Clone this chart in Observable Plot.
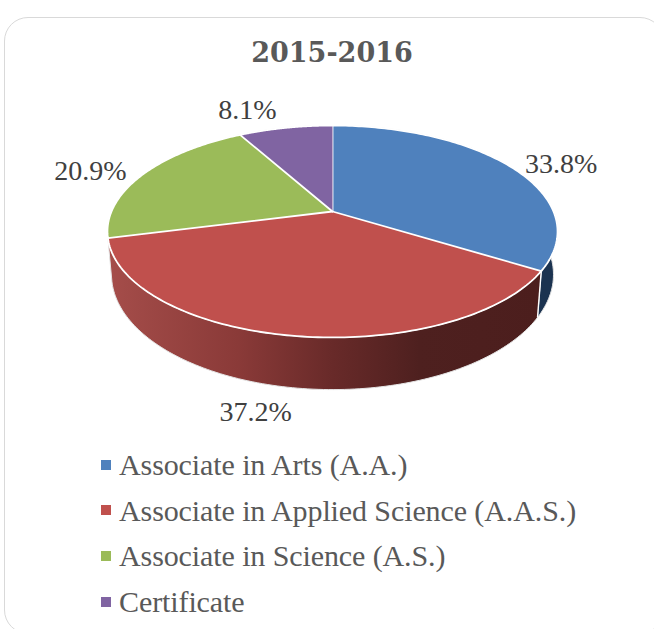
<!DOCTYPE html>
<html>
<head>
<meta charset="utf-8">
<script src="https://cdn.jsdelivr.net/npm/d3@7"></script>
<script src="https://cdn.jsdelivr.net/npm/@observablehq/plot@0.6"></script>
<style>
  html, body { margin: 0; padding: 0; background: #fff; overflow: hidden; }
  #page { position: relative; width: 654px; height: 629px; overflow: hidden; font-family: "Liberation Serif", serif; }
  #card { position: absolute; left: 4px; top: 17px; width: 660px; height: 617px; border: 1.5px solid #d9d9d9; border-radius: 24px; box-sizing: border-box; }
  #title { position: absolute; left: 0; width: 664px; top: 37px; text-align: center; font: bold 27px "DejaVu Serif", serif; color: #595959; }
  #chart { position: absolute; left: 0; top: 90px; }
  #legend { position: absolute; left: 101px; top: 442px; color: #595959; font-size: 30px; letter-spacing: -0.1px; line-height: 45.6px; white-space: nowrap; }
  #legend div { display: flex; align-items: center; }
  #legend i { display: inline-block; width: 10px; height: 10px; margin-right: 8px; }
</style>
</head>
<body>
<div id="page">
  <div id="card"></div>
  <div id="title"></div>
  <div id="chart"></div>
  <div id="legend"></div>
</div>
<script>
const chartTitle = "2015-2016";
const categories = ["Associate in Arts (A.A.)", "Associate in Applied Science (A.A.S.)", "Associate in Science (A.S.)", "Certificate"];
const shares = [33.8, 37.2, 20.9, 8.1];
const sliceColors = ["#4F81BD", "#C0504D", "#9BBB59", "#8064A2"];

// Perspective projection of a flat disc (unit radius), in scale units
const K = 0.1887, XS = 221 / 102.2;
const topRim = (a) => {
  const u = Math.sin(a), v = -Math.cos(a), w = 1 - K * v;
  return { x: XS * u / w, y: v / w };
};
const DEPTH_S = 0.982, DEPTH_Y = (252.4 - 211) / 102.2, DEPTH_B = 110.9 / 102.2;
const lowRim = (a) => {
  const u = Math.sin(a), v = -Math.cos(a), w = 1 - K * v;
  return { x: DEPTH_S * XS * u / w, y: DEPTH_Y + DEPTH_B * v / w };
};

const total = d3.sum(shares);
let acc = 0;
const slices = shares.map((s, i) => {
  const a0 = acc / total * 2 * Math.PI;
  acc += s;
  return { i, name: categories[i], share: s, color: sliceColors[i], a0, a1: acc / total * 2 * Math.PI };
});
const arc = (a0, a1, fn) => d3.range(0, 121).map(k => fn(a0 + (a1 - a0) * k / 120));

const facePoly = s => [{ x: 0, y: 0 }, ...arc(s.a0, s.a1, topRim)];
const sidePoly = (a0, a1) => [...arc(a0, a1, topRim), ...arc(a0, a1, lowRim).reverse()];

const blue = slices[0], red = slices[1];
const halo = { stroke: "#ffffff", strokeWidth: 1.8, strokeLinejoin: "round" };

// label placement: pixel offset from the rim point at each slice's mid-angle
const labelDx = [52, -36, -53, -38];
const labelDy = [-2, 76, -3, -18];

const gradient = () => {
  const svg = d3.create("svg:defs");
  const g = svg.append("linearGradient").attr("id", "redSide").attr("gradientUnits", "userSpaceOnUse")
    .attr("x1", 108).attr("x2", 540).attr("y1", 0).attr("y2", 0);
  [[0, "#A54D4A"], [0.3, "#8A3A38"], [0.52, "#682A29"], [0.72, "#4E201F"], [1, "#4C1E1D"]]
    .forEach(([o, c]) => g.append("stop").attr("offset", o).attr("stop-color", c));
  return svg.node();
};

const yTop = (90 - 211) / 102.2, yBot = (430 - 211) / 102.2;
const chart = Plot.plot({
  width: 654, height: 340, margin: 0,
  x: { axis: null, domain: [-332 / 102.2, 322 / 102.2], range: [0, 654] },
  y: { axis: null, domain: [yTop, yBot], range: [0, 340] },
  marks: [
    gradient,
    Plot.line(sidePoly(blue.a0 - 0.6, blue.a1), { x: "x", y: "y", fill: "#1B3350", stroke: "#e4e4e4", strokeWidth: 1 }),
    Plot.line(sidePoly(red.a0, red.a1), { x: "x", y: "y", fill: "url(#redSide)", stroke: "#e4e4e4", strokeWidth: 1 }),
    Plot.link([blue], {
      x1: d => topRim(d.a1).x, y1: d => topRim(d.a1).y,
      x2: d => lowRim(d.a1).x, y2: d => lowRim(d.a1).y,
      stroke: "#ffffff", strokeWidth: 1.4
    }),
    ...slices.map(s => Plot.line(facePoly(s), { x: "x", y: "y", fill: s.color, ...halo })),
    ...slices.map((s, i) => Plot.text([s], {
      x: d => topRim((d.a0 + d.a1) / 2).x,
      y: d => topRim((d.a0 + d.a1) / 2).y,
      text: d => d.share.toFixed(1) + "%",
      dx: labelDx[i], dy: labelDy[i],
      fontFamily: "Liberation Serif", fontSize: 28, fill: "#404040"
    }))
  ]
});
document.getElementById("chart").append(chart);
document.getElementById("title").textContent = chartTitle;
const legend = d3.select("#legend");
slices.forEach(s => {
  const row = legend.append("div");
  row.append("i").style("background", s.color);
  row.append("span").text(s.name);
});
</script>
</body>
</html>
